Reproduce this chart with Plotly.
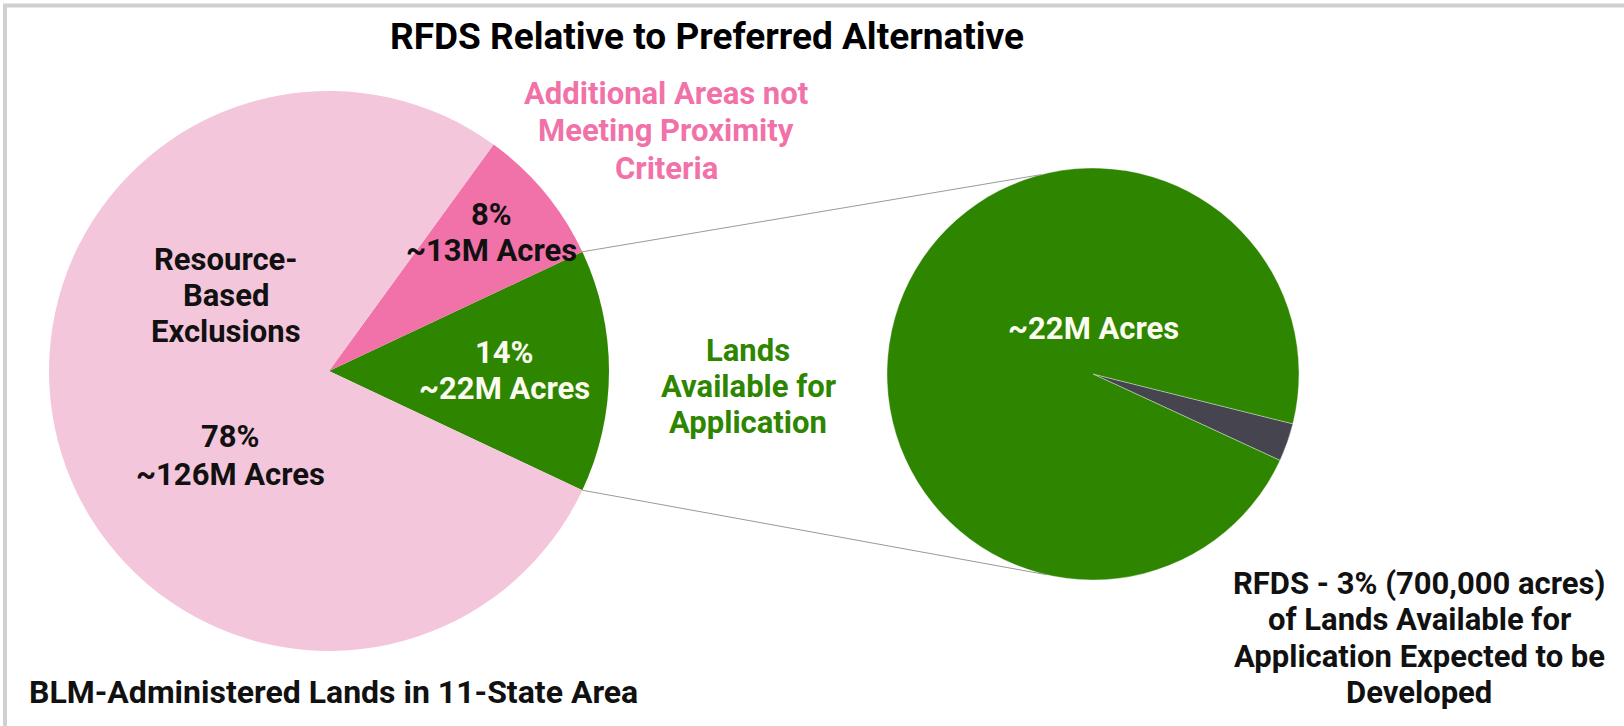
import math
import plotly.graph_objects as go

W, H = 1624, 726

# ---------------- data ----------------
title_text = "RFDS Relative to Preferred Alternative"

left_labels = ["Lands Available for Application",
               "Additional Areas not Meeting Proximity Criteria",
               "Resource-Based Exclusions"]
left_pct = [14, 8, 78]
left_acres = ["~22M Acres", "~13M Acres", "~126M Acres"]

right_labels = ["RFDS", "Remaining Lands Available for Application"]
right_pct = [3, 97]
right_acres_label = "~22M Acres"

left_caption = ["BLM-Administered Lands in 11-State Area"]
rfds_caption = ["RFDS - 3% (700,000 acres)", "of Lands Available for",
                "Application Expected to be", "Developed"]
additional_caption = ["Additional Areas not", "Meeting Proximity", "Criteria"]
lands_caption = ["Lands", "Available for", "Application"]
resource_caption = ["Resource-", "Based", "Exclusions"]

# ---------------- style ----------------
GREEN = "#2e8500"
HOTPINK = "#f172a8"
LIGHTPINK = "#f4c6db"
DARK = "#45444f"
CREAM = "#fbfbef"
FONT = "Roboto"

left_colors = [GREEN, HOTPINK, LIGHTPINK]
right_colors = [DARK, GREEN]

# pie geometry in pixels
LCX, LCY, LR = 329, 371, 280
RCX, RCY, RR = 1093, 374, 206
LINE_GAP = 36.5


def px(x):
    return x / W


def py(y):
    return 1 - y / H


def domain(cx, cy, r):
    return dict(x=[px(cx - r), px(cx + r)], y=[py(cy + r), py(cy - r)])


# green slice centred on the 3 o'clock direction
half_green = left_pct[0] / sum(left_pct) * 360 / 2

fig = go.Figure()
fig.add_trace(go.Pie(
    labels=left_labels, values=left_pct, sort=False,
    direction="counterclockwise", rotation=90 - half_green,
    marker=dict(colors=left_colors, line=dict(width=0)),
    textinfo="none", hoverinfo="label+percent", showlegend=False,
    domain=domain(LCX, LCY, LR),
))
fig.add_trace(go.Pie(
    labels=right_labels, values=right_pct, sort=False,
    direction="clockwise", rotation=104,
    marker=dict(colors=right_colors, line=dict(width=0.6, color="rgba(255,255,255,0.6)")),
    textinfo="none", hoverinfo="label+percent", showlegend=False,
    domain=domain(RCX, RCY, RR),
))

# connector lines from the green wedge corners to the zoomed pie
shapes = []
for sgn, ang_r in [(1, 104.6), (-1, 257.1)]:
    a = math.radians(sgn * half_green)
    x0 = LCX + LR * math.cos(a)
    y0 = LCY - LR * math.sin(a)
    b = math.radians(ang_r)
    x1 = RCX + RR * math.cos(b)
    y1 = RCY - RR * math.sin(b)
    shapes.append(dict(type="line", xref="paper", yref="paper",
                       x0=px(x0), y0=py(y0), x1=px(x1), y1=py(y1),
                       line=dict(color="#9a9a9a", width=1)))
# frame
shapes.append(dict(type="line", xref="paper", yref="paper",
                   x0=px(3), x1=1, y0=py(5.5), y1=py(5.5),
                   line=dict(color="#d0d0d0", width=4)))
shapes.append(dict(type="line", xref="paper", yref="paper",
                   x0=px(5), x1=px(5), y0=py(4), y1=0,
                   line=dict(color="#d0d0d0", width=4)))

annotations = []


def block(lines, x, y0, color="#111111", size=31, gap=LINE_GAP):
    for i, t in enumerate(lines):
        annotations.append(dict(
            text=t, x=px(x), y=py(y0 + i * gap), xref="paper", yref="paper",
            showarrow=False, xanchor="center", yanchor="middle", align="center",
            font=dict(family=FONT, size=size, color=color, weight="bold")))


block([title_text], 707, 36, "#000000", 37)
block(additional_caption, 666, 93, HOTPINK, gap=37.5)
block(resource_caption, 226, 259)
block([f"{left_pct[2]}%", left_acres[2]], 230, 436, gap=38)
block([f"{left_pct[1]}%", left_acres[1]], 491, 214)
block([f"{left_pct[0]}%", left_acres[0]], 504, 352, CREAM)
block(lands_caption, 748, 350, GREEN)
block([right_acres_label], 1093, 328, CREAM)
block(rfds_caption, 1419, 583)
block(left_caption, 333, 692, "#111111", 32)

fig.update_layout(
    width=W, height=H,
    margin=dict(l=0, r=0, t=0, b=0),
    paper_bgcolor="white", plot_bgcolor="white",
    shapes=shapes, annotations=annotations,
    font=dict(family=FONT),
)

fig.write_html("out.html", config={"displayModeBar": False},
               post_script="document.body.style.margin='0';")
